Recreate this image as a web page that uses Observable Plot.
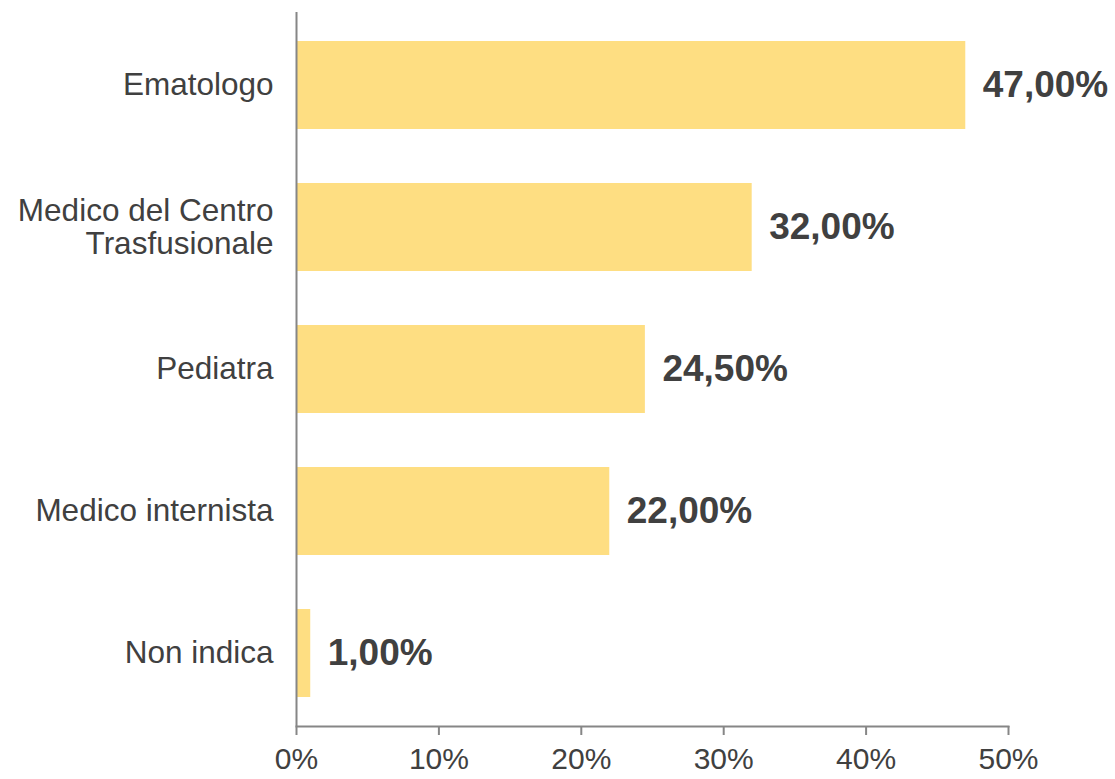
<!DOCTYPE html>
<html>
<head>
<meta charset="utf-8">
<script src="https://cdn.jsdelivr.net/npm/d3@7"></script>
<script src="https://cdn.jsdelivr.net/npm/@observablehq/plot@0.6"></script>
<style>
  html, body { margin: 0; padding: 0; background: #ffffff; }
</style>
</head>
<body>
<div id="chart"></div>
<script>
const categories = ["Ematologo", "Medico del Centro\nTrasfusionale", "Pediatra", "Medico internista", "Non indica"];
const values = [47, 32, 24.5, 22, 1];
const valueLabels = ["47,00%", "32,00%", "24,50%", "22,00%", "1,00%"];
const xTicks = [0, 10, 20, 30, 40, 50];
const xTickLabels = ["0%", "10%", "20%", "30%", "40%", "50%"];

const data = categories.map((c, i) => ({cat: c, value: values[i], label: valueLabels[i]}));
const font = "Liberation Sans, Arial, Helvetica, sans-serif";

const chart = Plot.plot({
  width: 1115,
  height: 779,
  marginLeft: 296,
  marginRight: 107,
  marginTop: 12,
  marginBottom: 53,
  style: {fontFamily: font, background: "#ffffff", color: "#404040"},
  x: {domain: [0, 50]},
  y: {domain: categories, paddingInner: 0.38, paddingOuter: 0.19},
  marks: [
    Plot.barX(data, {x: "value", y: "cat", fill: "#FEDE82"}),
    Plot.ruleX([0], {stroke: "#868686", strokeWidth: 2}),
    Plot.frame({anchor: "bottom", stroke: "#868686", strokeWidth: 2}),
    Plot.axisX(xTicks, {
      tickSize: 9, tickPadding: 12, stroke: "#868686", strokeWidth: 2,
      tickFormat: (d) => xTickLabels[xTicks.indexOf(d)],
      fontSize: 30, fill: "#404040", label: null
    }),
    Plot.axisY({
      tickSize: 0, tickPadding: 23, fontSize: 31.5, lineHeight: 1.05,
      fill: "#404040", label: null, dy: -1
    }),
    Plot.text(data, {
      x: "value", y: "cat", text: "label", textAnchor: "start", dx: 17,
      fontSize: 37, fontWeight: "bold", fill: "#404040"
    })
  ]
});
document.getElementById("chart").appendChild(chart);
</script>
</body>
</html>
